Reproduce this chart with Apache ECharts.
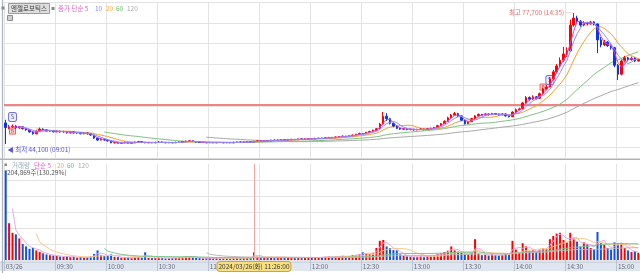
<!DOCTYPE html>
<html><head><meta charset="utf-8">
<script src="https://cdn.jsdelivr.net/npm/echarts@6/dist/echarts.min.js"></script>
<style>html,body{margin:0;padding:0;background:#fff}#c{width:640px;height:273px}</style>
</head><body><div id="c"></div>
<script>
// 2-minute bars from 09:00, [open, close, low, high]
const candles = [
[49500,48300,44100,50300],[48300,48500,47900,49000],[48500,48700,48200,49100],[48700,48200,48000,48900],[48200,48500,48000,48700],
[48500,48000,47800,48600],[48000,47700,47500,48200],[47700,47200,47000,47800],[47200,46700,46500,47400],[46700,47400,46600,47500],
[47400,47900,47300,48300],[47900,47700,47500,48100],[47700,47400,47300,47800],[47400,47500,47200,47700],[47500,47200,47100,47600],
[47200,47400,47100,47600],[47400,47200,47000,47500],[47200,47300,47000,47500],[47300,46900,46800,47400],[46900,47200,46800,47300],
[47200,46900,46800,47300],[46900,47000,46700,47100],[47000,46700,46600,47100],[46700,46900,46600,47000],[46900,46700,46500,47000],
[46700,46400,46200,46800],[46400,45600,45400,46500],[45600,45100,44900,45700],[45100,45400,45000,45600],[45400,45100,44900,45500],
[45100,44900,44700,45300],[44900,44400,44300,45000],[44400,44500,44200,44700],[44500,44300,44200,44600],[44300,44400,44200,44600],
[44400,44500,44300,44700],[44500,44300,44200,44600],[44300,44400,44200,44500],[44400,44600,44300,44700],[44600,44700,44500,44900],
[44700,44500,44400,44800],[44500,44400,44300,44600],[44400,44500,44300,44600],[44500,44400,44300,44600],[44400,44500,44300,44700],
[44500,44600,44400,44800],[44600,44500,44400,44700],[44500,44400,44300,44600],[44400,44500,44300,44600],[44500,44400,44300,44600],
[44400,44500,44300,44700],[44500,44600,44400,44700],[44600,44700,44500,44900],[44700,44800,44600,45000],[44800,44900,44700,45100],
[44900,44700,44600,45000],[44700,44600,44500,44800],[44600,44500,44400,44700],[44500,44500,44400,44600],[44500,44400,44300,44600],
[44400,44500,44300,44600],[44500,44400,44300,44600],[44400,44500,44300,44600],[44500,44500,44400,44600],[44500,44400,44300,44600],
[44400,44500,44300,44600],[44500,44400,44300,44600],[44400,44500,44300,44700],[44500,44600,44400,44700],[44600,44500,44400,44700],
[44500,44600,44400,44800],[44600,44700,44500,44800],[44700,44600,44500,44800],[44600,44800,44500,44900],[44800,44900,44700,45100],
[44900,44800,44700,45000],[44800,45000,44700,45100],[45000,44900,44800,45100],[44900,45100,44800,45200],[45100,45000,44900,45200],
[45000,45100,44900,45300],[45100,45200,45000,45300],[45200,45100,45000,45300],[45100,45200,45000,45400],[45200,45300,45100,45400],
[45300,45200,45100,45400],[45200,45400,45100,45500],[45400,45300,45200,45500],[45300,45400,45200,45600],[45400,45500,45300,45600],
[45500,45400,45300,45600],[45400,45500,45300,45700],[45500,45600,45400,45700],[45600,45500,45400,45700],[45500,45700,45400,45800],
[45700,45800,45600,45900],[45800,45700,45600,45900],[45700,45900,45600,46000],[45900,46000,45800,46100],[46000,46100,45900,46300],
[46100,46000,45900,46200],[46000,46200,45900,46300],[46200,46400,46100,46500],[46400,46600,46300,46700],[46600,46800,46500,47000],
[46800,46700,46500,46900],[46700,47100,46600,47200],[47100,47300,47000,47500],[47300,47600,47200,47800],[47600,48000,47500,48200],
[48000,49200,47900,49500],[49200,51200,49000,52300],[51200,50600,50000,52000],[50600,49400,49100,50800],[49400,48700,48400,49600],
[48700,48100,47900,48900],[48100,47900,47700,48300],[47900,48000,47700,48200],[48000,47800,47600,48100],[47800,47900,47600,48000],
[47900,47700,47500,48000],[47700,47800,47600,48000],[47800,47900,47700,48100],[47900,47800,47600,48000],[47800,48000,47700,48200],
[48000,48100,47900,48300],[48100,48300,48000,48500],[48300,48800,48200,49000],[48800,49300,48700,49500],[49300,49900,49200,50200],
[49900,50800,49800,51100],[50800,51500,50600,51800],[51500,51900,51300,52300],[51900,51300,51000,52100],[51300,50200,50000,51400],
[50200,49300,49100,50300],[49300,49800,49200,50000],[49800,50600,49700,50800],[50600,51300,50500,51500],[51300,51700,51100,51900],
[51700,51500,51300,51800],[51500,51800,51400,52000],[51800,51600,51400,51900],[51600,51900,51500,52100],[51900,51700,51500,52000],
[51700,51600,51400,51900],[51600,51800,51500,52000],[51800,51300,51100,51900],[51300,51100,50900,51500],[51100,52300,51000,52500],
[52300,52900,52100,53200],[52900,53100,52700,53400],[53100,54600,53000,54900],[54600,56000,54400,56400],[56000,55600,55200,56300],
[55600,56200,55400,56600],[56200,55800,55500,56400],[55800,57000,55700,57300],[57000,58200,56800,58500],[58200,58700,57900,59200],
[58700,60800,58600,61200],[60800,62600,60500,63100],[62600,64100,62200,64600],[64100,65600,63800,66300],[65600,67200,65200,69000],
[67200,68000,66400,68900],[68000,74600,67800,76000],[74600,76400,74200,77700],[76400,75600,75000,77000],[75600,74600,74200,75900],
[74600,75100,74300,75600],[75100,74900,74500,75400],[74900,75400,74700,75700],[75400,74900,74500,75600],[74900,70800,67400,75000],
[70800,69500,68900,71500],[69500,70200,69200,70800],[70200,69300,69000,70500],[69300,68800,68300,69600],[68800,64300,63800,69000],
[64300,62000,60500,64600],[62000,65400,61700,65800],[65400,66200,65000,66700],[66200,65700,65300,66400],[65700,66100,65500,66500],
[66100,65400,65100,66300],[65400,65800,65200,66000]
];
const volumes = [
560000,230000,170000,160000,135000,100000,85000,70000,75000,60000,
50000,42000,35000,30000,28000,25000,22000,20000,24000,18000,
20000,15000,18000,15000,17000,22000,38000,60000,30000,25000,
28000,35000,20000,18000,15000,16000,14000,12000,18000,20000,
15000,48000,14000,12000,13000,15000,12000,10000,11000,12000,
14000,16000,20000,22000,25000,18000,14000,12000,10000,11000,
12000,10000,11000,9000,10000,12000,10000,13000,15000,12000,
14000,16000,13000,48000,20000,15000,18000,14000,16000,13000,
15000,17000,14000,15000,16000,13000,17000,14000,16000,18000,
14000,16000,18000,15000,20000,22000,17000,21000,24000,26000,
20000,25000,30000,32000,35000,48000,40000,38000,45000,75000,
120000,125000,85000,75000,62000,60000,35000,25000,22000,20000,
18000,20000,22000,18000,24000,26000,30000,38000,42000,50000,
58000,85000,60000,52000,45000,40000,35000,45000,130000,40000,
30000,32000,28000,35000,30000,28000,32000,40000,35000,120000,
65000,50000,105000,85000,55000,60000,50000,65000,75000,70000,
130000,150000,165000,170000,125000,110000,170000,135000,115000,85000,
110000,100000,75000,65000,175000,105000,95000,75000,65000,110000,
105000,105000,75000,60000,50000,55000,45000
];
const tickLabels = ['03/26','09:30','10:00','10:30','11:00','11:30','12:00','12:30','13:00','13:30','14:00','14:30','15:00'];
const priceMAPeriods = [5, 10, 20, 60, 120];
const priceMAColors = ['#e040d0', '#9090f0', '#f0a030', '#80c080', '#a8a8a8'];
const volMAPeriods = [5, 20, 60, 120];
const volMAColors = ['#eaa6e6', '#f8c890', '#7cc48c', '#bbbbbb'];
const refPrice = 54100;
const high = {time: '14:34', price: 77700, text: '최고 77,700 (14:35) ─'};
const low = {time: '09:00', price: 44100, text: '◀ 최저 44,100 (09:01)'};
const crossTime = '11:26';
const signalsS = [['09:04', 51000], ['14:20', 60500]];
const signalsB = [['09:04', 47400], ['14:16', 58700]];

const STEP = 2;
const pad = n => (n < 10 ? '0' : '') + n;
const categories = candles.map((_, i) => { const m = 540 + i * STEP; return pad(Math.floor(m / 60)) + ':' + pad(m % 60); });
const closes = candles.map(c => c[1]);
function ma(src, per) {
  const n = Math.max(2, Math.round(per / STEP));
  return src.map((_, i) => {
    if (i < n - 1) return '-';
    let s = 0; for (let k = i - n + 1; k <= i; k++) s += src[k];
    return s / n;
  });
}
const UP = '#ff0000', DOWN = '#0a32f0';
const FONT = '"Noto Sans CJK KR", "Liberation Sans", sans-serif';
const FS = 6.5;
const crossIdx = categories.indexOf(crossTime);

const chart = echarts.init(document.getElementById('c'), null, {renderer: 'canvas'});
const series = [];
series.push({
  type: 'candlestick', xAxisIndex: 0, yAxisIndex: 0, data: candles, barWidth: 2, z: 5,
  itemStyle: {color: UP, color0: DOWN, borderColor: UP, borderColor0: DOWN, borderWidth: 1},
  markLine: {silent: true, symbol: 'none', label: {show: false}, z: 1,
    lineStyle: {color: '#f08484', width: 2, type: 'solid'}, data: [{yAxis: refPrice}]},
  markPoint: {silent: true, data: [
    {coord: [high.time, high.price], symbol: 'circle', symbolSize: 1, itemStyle: {color: 'transparent'},
      label: {show: true, position: 'left', distance: 1, formatter: high.text, color: '#f06868', fontSize: FS, fontFamily: FONT}},
    {coord: [low.time, low.price], symbol: 'circle', symbolSize: 1, itemStyle: {color: 'transparent'},
      label: {show: true, position: 'right', distance: 0, offset: [1, 6], formatter: low.text, color: '#5656dc', fontSize: FS, fontFamily: FONT}},
    ...signalsB.map(s => ({coord: s, symbol: 'rect', symbolSize: [6, 6], itemStyle: {color: '#ffd6d6', borderColor: '#f06060', borderWidth: 1},
      label: {show: true, position: 'inside', formatter: 'B', color: '#e04040', fontSize: 5, fontFamily: FONT}})),
    ...signalsS.map(s => ({coord: s, symbol: 'roundRect', symbolSize: [8, 9], itemStyle: {color: '#eeeeff', borderColor: '#7070e0', borderWidth: 1},
      label: {show: true, position: 'inside', formatter: 'S', color: '#5050d0', fontSize: 6, fontFamily: FONT}}))
  ]}
});
priceMAPeriods.forEach((p, k) => series.push({
  type: 'line', xAxisIndex: 0, yAxisIndex: 0, data: ma(closes, p), showSymbol: false, symbol: 'none', z: 3 + (k < 2 ? 3 : 0),
  lineStyle: {color: priceMAColors[k], width: 1}, silent: true
}));
series.push({
  type: 'bar', xAxisIndex: 1, yAxisIndex: 2, barWidth: 2, z: 2,
  data: volumes.map((v, i) => ({value: v, itemStyle: {color: candles[i][1] >= candles[i][0] ? UP : '#1450d8'}}))
});
volMAPeriods.forEach((p, k) => series.push({
  type: 'line', xAxisIndex: 1, yAxisIndex: 2, data: ma(volumes, p), showSymbol: false, symbol: 'none', z: 3,
  lineStyle: {color: volMAColors[k], width: 1}, silent: true
}));

const gridLine = {lineStyle: {color: '#e3e3e3', width: 1}};
const xBase = {type: 'category', data: categories, boundaryGap: true, axisLine: {show: false}};
const hdr = (x, y, text, color) => ({type: 'text', x, y, z: 100, zlevel: 1, style: {text, fill: color, font: FS + 'px ' + FONT, textVerticalAlign: 'middle'}});

chart.setOption({
  animation: false,
  backgroundColor: '#ffffff',
  grid: [
    {left: 4, right: 0, top: 2, height: 156, outerBoundsMode: 'none'},
    {left: 4, right: 0, top: 164, height: 96, outerBoundsMode: 'none'}
  ],
  xAxis: [
    Object.assign({}, xBase, {gridIndex: 0, axisTick: {show: false}, axisLabel: {show: false},
      splitLine: Object.assign({show: true, interval: 14}, gridLine)}),
    Object.assign({}, xBase, {gridIndex: 1,
      axisTick: {show: true, interval: 14, length: 11, lineStyle: {color: '#b9c3d1'}},
      axisLabel: {show: true, interval: 14, align: 'left', margin: 3, fontSize: FS, fontFamily: FONT, color: '#6a6a78',
        formatter: (v, i) => tickLabels[Math.round(i / 15)] || ''},
      splitLine: Object.assign({show: true, interval: 14}, gridLine),
      axisPointer: {show: true, type: 'line', value: crossIdx, status: 'show', snap: false, triggerTooltip: false,
        lineStyle: {color: '#f4a4a4', width: 1, type: 'solid'},
        label: {show: true, margin: 2, formatter: () => '2024/03/26(화) ' + crossTime + ':00', fontSize: FS, fontFamily: FONT,
          color: '#3a3a3a', backgroundColor: '#f8df80', borderColor: '#c8a448', borderWidth: 1, padding: [1, 1, 0, 1], lineHeight: 8, shadowBlur: 0}}})
  ],
  yAxis: [
    {type: 'value', gridIndex: 0, min: 40500, max: 80520, show: false},
    {type: 'value', gridIndex: 0, inverse: true, min: 0, max: 7.5, interval: 1, axisLine: {show: false}, axisTick: {show: false},
      axisLabel: {show: false}, splitLine: Object.assign({show: true, showMaxLine: false}, gridLine)},
    {type: 'value', gridIndex: 1, min: 0, max: 600000, interval: 100000, axisLine: {show: false}, axisTick: {show: false},
      axisLabel: {show: false}, splitLine: Object.assign({show: true, showMaxLine: false}, gridLine)}
  ],
  series,
  graphic: [
    {type: 'rect', z: -1, shape: {x: 0, y: 262, width: 640, height: 9}, style: {fill: '#dfe6f0'}},
    {type: 'line', z: 50, shape: {x1: 0, y1: 262, x2: 640, y2: 262}, style: {stroke: '#b8c4d4', lineWidth: 1}},
    {type: 'line', z: 50, shape: {x1: 0, y1: 159.2, x2: 640, y2: 159.2}, style: {stroke: '#b2b2b2', lineWidth: 1.5}},
    {type: 'line', z: 50, shape: {x1: 2.5, y1: 0, x2: 2.5, y2: 273}, style: {stroke: '#aeb6c4', lineWidth: 1.3}},
    {type: 'rect', z: 100, zlevel: 1, shape: {x: 1.5, y: 6.5, width: 3, height: 3}, style: {fill: '#8a8a8a'}},
    {type: 'rect', z: 100, zlevel: 1, shape: {x: 8.5, y: 3.5, width: 41, height: 10}, style: {fill: '#dedede', stroke: '#9c9c9c', lineWidth: 1}},
    hdr(11, 8.7, '엔젤로보틱스', '#3c3c3c'),
    {type: 'rect', z: 100, zlevel: 1, shape: {x: 51.5, y: 7, width: 3, height: 3}, style: {fill: '#8a8a8a'}},
    hdr(58, 8.7, '종가 단순 5', '#e060c8'),
    hdr(95, 8.7, '10', '#8a8aee'),
    hdr(106, 8.7, '20', '#f0ac48'),
    hdr(116, 8.7, '60', '#6cb86c'),
    hdr(127, 8.7, '120', '#aaaaaa'),
    {type: 'rect', z: 100, zlevel: 1, shape: {x: 7.5, y: 15.5, width: 5, height: 5}, style: {fill: '#d0d0d0', stroke: '#8c8c8c', lineWidth: 1}},
    {type: 'rect', z: 100, zlevel: 1, shape: {x: 4.5, y: 163.5, width: 2.5, height: 2.5}, style: {fill: '#8a8a8a'}},
    hdr(12, 165.3, '거래량', '#8fa9bf'),
    hdr(34, 165.3, '단순 5', '#e060c8'),
    hdr(57, 165.3, '20', '#f0ac48'),
    hdr(67, 165.3, '60', '#6cb86c'),
    hdr(78, 165.3, '120', '#aaaaaa'),
    hdr(7, 172.3, '204,869주(130.29%)', '#555555')
  ]
});
</script></body></html>
